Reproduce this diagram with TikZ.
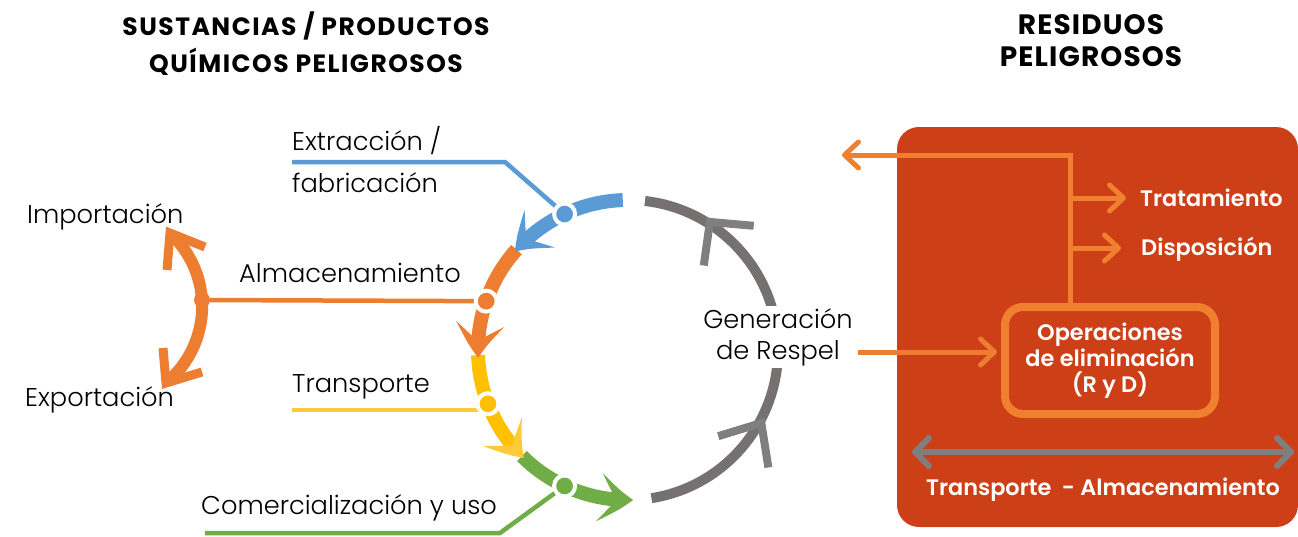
\documentclass[tikz,border=0pt]{standalone}
\usepackage{fontspec}
\setmainfont{Poppins}
\newfontfamily\lightf{Poppins Light}
\newfontfamily\semif{Poppins SemiBold}
\usetikzlibrary{arrows.meta,bending}
\definecolor{cblue}{HTML}{5B9BD5}
\definecolor{corange}{HTML}{ED7D31}
\definecolor{cyellow}{HTML}{FFC000}
\definecolor{cyellowL}{HTML}{FFCA3A}
\definecolor{cgreen}{HTML}{70AD47}
\definecolor{cgrayarc}{HTML}{767171}
\definecolor{cgray}{HTML}{7F7F7F}
\definecolor{cbox}{HTML}{CD4017}
\definecolor{cinner}{HTML}{F07F30}
\begin{document}
\begin{tikzpicture}[x=1pt,y=1pt,
  lbl/.style={font=\lightf\fontsize{25.7}{30}\selectfont, inner sep=0pt, anchor=west, text=black},
  head/.style={align=center, inner sep=0pt},
  wtxt/.style={font=\semif\fontsize{22.4}{26}\selectfont, text=white, inner sep=0pt},
  ring/.style={line width=14pt},
  tipA/.style={-{Stealth[length=34pt,width=48pt,inset=17pt,bend]}},
  chev/.style={line width=9pt, line join=miter, line cap=butt},
  conn/.style={line width=4.5pt},
  dot/.style={circle, inner sep=0pt, minimum size=21pt, draw=white, line width=4pt},
  barb/.style={line width=5pt, -{Straight Barb[length=14pt,width=26pt,round]}},
]
\useasboundingbox (0,0) rectangle (1298,-536);

% headings
\node[head, font=\bfseries\fontsize{25}{37}\selectfont\addfontfeatures{LetterSpace=6}] (h1) at (306,-43.5) {SUSTANCIAS / PRODUCTOS\\QUÍMICOS PELIGROSOS};
\node[head, font=\bfseries\fontsize{28}{32}\selectfont\addfontfeatures{LetterSpace=4}] (h2) at (1091,-41) {RESIDUOS\\PELIGROSOS};

% cycle
\coordinate (C) at (628,-350);
\draw[ring, cgrayarc, line width=10pt] ([shift={(279:150)}]C) arc[start angle=279, end angle=443.5, radius=150];
\draw[chev, cgray, line width=8pt] ([shift={(331.3:152)}]C) +(197:45) -- ([shift={(331.3:152)}]C) -- +(279:45);
\draw[chev, cgray, line width=8pt] ([shift={(57.4:152)}]C) +(262:44) -- ([shift={(57.4:152)}]C) -- +(355:44);

\draw[ring, cgreen, tipA] ([shift={(225:150)}]C) arc[start angle=225, end angle=272, radius=150];
\draw[ring, cyellow, -{Stealth[length=34pt,width=48pt,inset=17pt,bend,color=cyellowL]}] ([shift={(182:150)}]C) arc[start angle=182, end angle=226, radius=150];
\draw[ring, corange, tipA] ([shift={(138:150)}]C) arc[start angle=138, end angle=183, radius=150];
\draw[ring, cblue, tipA] ([shift={(92:150)}]C) arc[start angle=92, end angle=139, radius=150];

% dot positions
\coordinate (pB) at ([shift={(115:150)}]C);
\coordinate (pO) at ([shift={(161:150)}]C);
\coordinate (pY) at ([shift={(201:150)}]C);
\coordinate (pG) at ([shift={(245:150)}]C);

% labels
\node[lbl] (tExt) at (292,-141) {Extracción /};
\node[lbl] (tFab) at (292,-183) {fabricación};
\node[lbl] (tImp) at (27,-217) {Importación};
\node[lbl] (tAlm) at (239,-273) {Almacenamiento};
\node[lbl] (tExp) at (25,-400) {Exportación};
\node[lbl] (tTra) at (292,-387) {Transporte};
\node[lbl] (tCom) at (201,-508) {Comercialización y uso};

% connectors
\coordinate (sB) at (292,-162);
\coordinate (kB) at (505,-162);
\draw[conn, cblue] (sB) -- (kB) -- (pB);
\coordinate (sY) at (292,-410);
\draw[conn, cyellowL] (sY) -- (sY -| pY);
\coordinate (sG) at (205,-533);
\coordinate (kG) at (500,-533);
\draw[conn, cgreen] (sG) -- (kG) -- (pG);

% left import/export arc
\coordinate (L) at (102.75,-306.26);
\draw[corange, line width=12pt] ([shift={(-47:99.4)}]L) arc[start angle=-47, end angle=44, radius=99.4];
\draw[chev, corange] (167,-270) -- (170,-233) -- (205,-247);
\draw[chev, corange] (163,-348) -- (166,-383) -- (202,-372);
\node[circle, fill=corange, inner sep=0pt, minimum size=16pt] (dL) at (202,-300) {};
\draw[conn, corange] (dL) -- (pO);

% dots
\node[dot, fill=cblue] (dB) at (pB) {};
\node[dot, fill=corange] (dO) at (pO) {};
\node[dot, fill=cyellow] (dY) at (pY) {};
\node[dot, fill=cgreen] (dG) at (pG) {};

% generation label
\node[lbl, anchor=center, fill=white, align=center, inner sep=2pt, font=\lightf\fontsize{25.7}{31}\selectfont] (gen) at (778,-337) {Generación\\de Respel};

% right box
\node[fill=cbox, rounded corners=22pt, minimum width=401pt, minimum height=400pt, inner sep=0pt] (box) at (1097.5,-327) {};
\node[draw=cinner, line width=8pt, fill=cbox, rounded corners=18pt, minimum width=210pt, minimum height=107pt, inner sep=0pt, wtxt, align=center] (ops) at (1110,-360.5) {Operaciones\\de eliminación\\(R y D)};
\node[wtxt, anchor=west] (trat) at (1140,-198) {Tratamiento};
\node[wtxt, anchor=west] (disp) at (1141,-249) {Disposición};
\node[wtxt] (ta) at (1103,-490) {Transporte\ \ - Almacenamiento};

\coordinate (jn) at (1070,-155);
\coordinate (lt) at (842,-155);
\draw[barb, cinner, line join=miter] (jn |- ops.north) -- (jn) -- (lt);
\coordinate (b1) at (1070,-198);
\coordinate (b2) at (1070,-248);
\draw[barb, cinner] (b1) -- ([xshift=-14pt]b1 -| trat.west);
\draw[barb, cinner] (b2) -- ([xshift=-20pt]b2 -| disp.west);
\coordinate (a1) at (858,-352);
\draw[barb, corange] (a1) -- ([xshift=-4pt]a1 -| ops.west);
\coordinate (g1) at (912,-452);
\coordinate (g2) at (1294,-452);
\draw[cgray, line width=6pt, {Straight Barb[length=14pt,width=28pt,round]}-{Straight Barb[length=14pt,width=28pt,round]}] (g1) -- (g2);
\end{tikzpicture}
\end{document}
